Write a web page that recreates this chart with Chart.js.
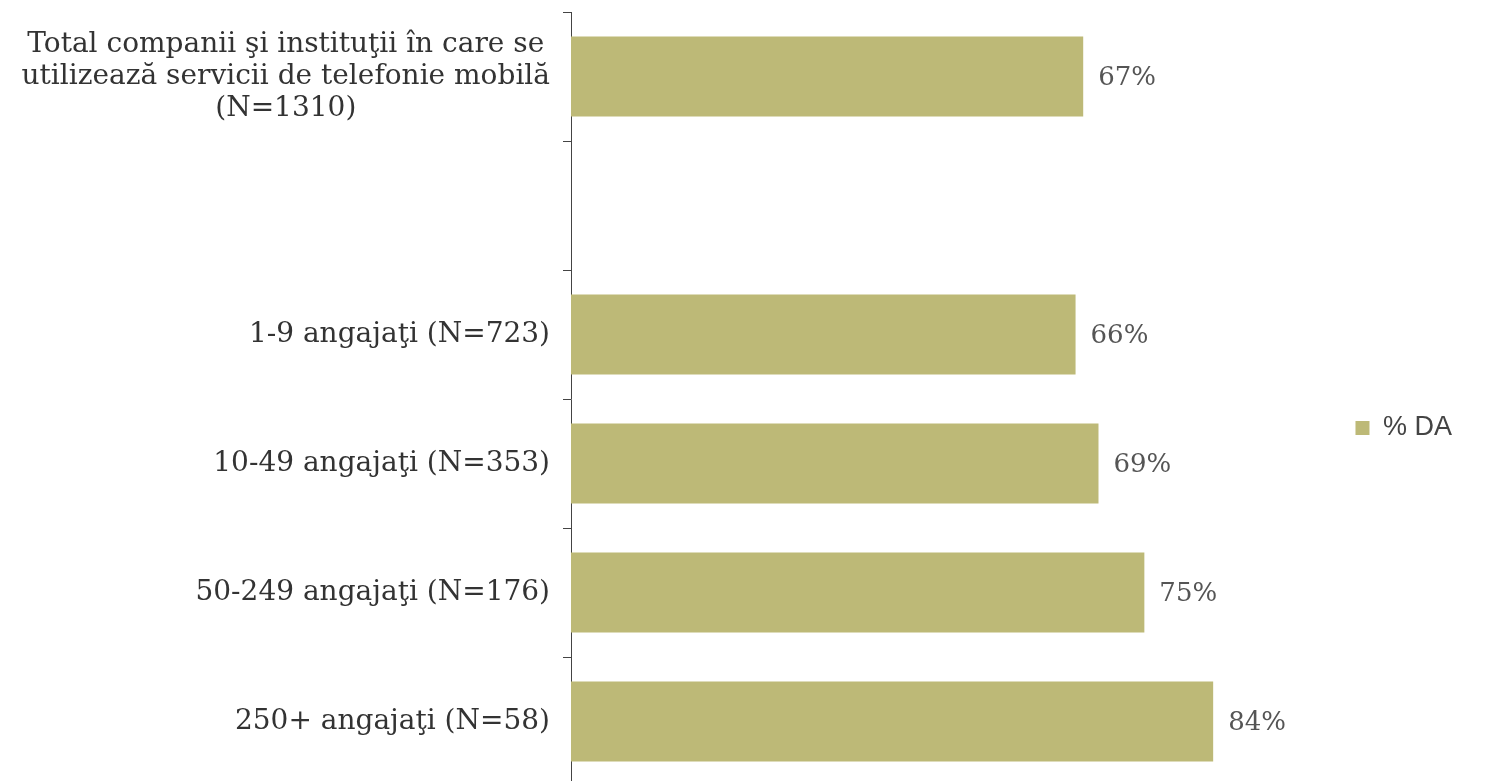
<!DOCTYPE html>
<html>
<head>
  <meta charset="UTF-8">
  <title>Telefonie mobilă - % DA</title>
  <script src="https://cdn.jsdelivr.net/npm/chart.js"></script>
  <style>
    html, body {
      margin: 0;
      padding: 0;
      background: #ffffff;
      overflow: hidden;
    }
    #chartContainer {
      width: 1503px;
      height: 786px;
    }
  </style>
</head>
<body>
  <div id="chartContainer">
    <canvas id="mobileChart"></canvas>
  </div>

  <script>
    // categories (empty one is the gap between total and the size groups)
    const categories = [
      ['Total companii şi instituţii în care se', 'utilizează servicii de telefonie mobilă', '(N=1310)'],
      '',
      '1-9 angajaţi (N=723)',
      '10-49 angajaţi (N=353)',
      '50-249 angajaţi (N=176)',
      '250+ angajaţi (N=58)'
    ];
    const daValues = [67, null, 66, 69, 75, 84];
    const seriesName = '% DA';

    const serif = "'DejaVu Serif', 'Liberation Serif', serif";
    const labelSize = 28;
    const valueSize = 26;

    // percentage labels next to each bar + centred multi-line first label
    const valueLabels = {
      id: 'valueLabels',
      afterDatasetsDraw(chart) {
        const ctx = chart.ctx;
        const meta = chart.getDatasetMeta(0);
        ctx.save();
        ctx.font = valueSize + 'px ' + serif;
        ctx.fillStyle = '#555555';
        ctx.textAlign = 'left';
        ctx.textBaseline = 'middle';
        meta.data.forEach((bar, i) => {
          const v = daValues[i];
          if (v === null) return;
          ctx.fillText(v + '%', bar.x + 15, bar.y + 2);
        });

        // multi-line category labels, centred on their widest line
        const y = chart.scales.y;
        ctx.font = labelSize + 'px ' + serif;
        ctx.fillStyle = '#333333';
        ctx.textAlign = 'center';
        categories.forEach((lab, i) => {
          if (!Array.isArray(lab)) return;
          const maxW = Math.max(...lab.map(l => ctx.measureText(l).width));
          const cx = y.right - 8 - 13 - maxW / 2;
          const lh = 32;
          const cy = y.getPixelForTick(i);
          lab.forEach((l, j) => {
            ctx.fillText(l, cx, cy + (j - (lab.length - 1) / 2) * lh);
          });
        });
        ctx.restore();
      }
    };

    // nudge the legend down a little, as in the original
    const legendShift = {
      id: 'legendShift',
      afterLayout(chart) {
        chart.legend.top += 29;
        chart.legend.bottom += 29;
      }
    };

    const ctx = document.getElementById('mobileChart').getContext('2d');
    new Chart(ctx, {
      type: 'bar',
      data: {
        labels: categories,
        datasets: [{
          label: seriesName,
          data: daValues,
          backgroundColor: '#bdb977',
          borderWidth: 0,
          barPercentage: 0.62,
          categoryPercentage: 1
        }]
      },
      options: {
        indexAxis: 'y',
        responsive: true,
        maintainAspectRatio: false,
        animation: false,
        layout: { padding: { top: 12, right: 41, bottom: 0, left: 0 } },
        scales: {
          x: {
            display: false,
            min: 0,
            max: 100
          },
          y: {
            afterFit: s => { s.width = 571; s.paddingTop = 0; s.paddingBottom = 0; },
            border: { display: true, color: '#444444', width: 1 },
            grid: {
              drawOnChartArea: false,
              drawTicks: true,
              tickLength: 8,
              tickColor: '#444444',
              offset: true
            },
            ticks: {
              padding: 13,
              color: '#333333',
              callback: function(val, i) {
                const lab = categories[i];
                return Array.isArray(lab) ? '' : lab;
              },
              font: { family: serif, size: labelSize }
            }
          }
        },
        plugins: {
          legend: {
            position: 'right',
            labels: {
              boxWidth: 14,
              boxHeight: 14,
              color: '#444444',
              padding: 20,
              font: { family: "'Liberation Sans', Arial, sans-serif", size: 27 }
            }
          },
          tooltip: { enabled: false }
        }
      },
      plugins: [valueLabels, legendShift]
    });
  </script>
</body>
</html>
